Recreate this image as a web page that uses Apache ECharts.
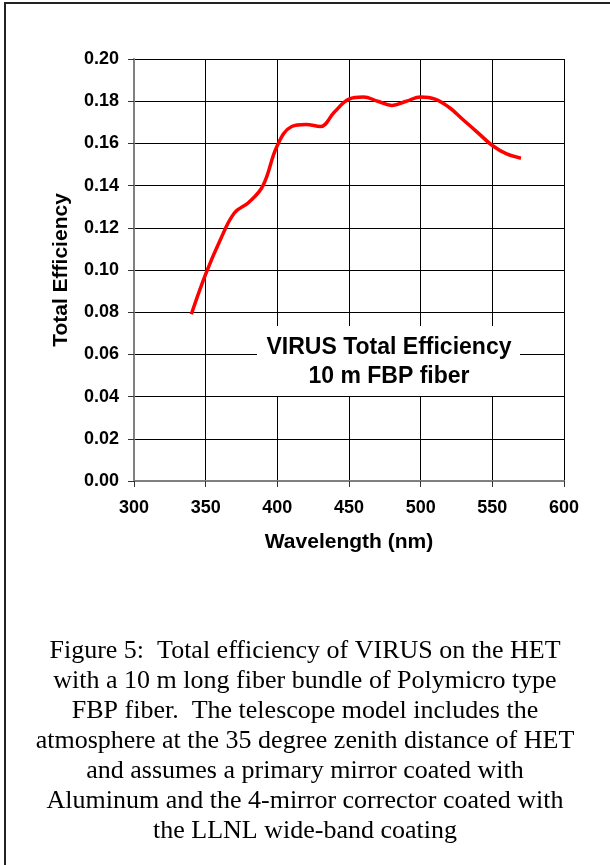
<!DOCTYPE html>
<html>
<head>
<meta charset="utf-8">
<script src="https://cdn.jsdelivr.net/npm/echarts@6/dist/echarts.min.js"></script>
<style>
html,body{margin:0;padding:0;background:#fff;}
#chart{width:610px;height:865px;}
</style>
</head>
<body>
<div id="chart"></div>
<script>
// Wavelength (nm)
const wavelengths = [340, 350, 360, 370, 380, 390, 400, 410, 420, 430, 440, 450, 460, 470, 480, 490, 500, 510, 520, 530, 540, 550, 560, 570];
// Total efficiency
const efficiency = [0.079, 0.098, 0.114, 0.127, 0.132, 0.140, 0.159, 0.168, 0.169, 0.168, 0.175, 0.181, 0.182, 0.180, 0.178, 0.180, 0.182, 0.181, 0.177, 0.171, 0.165, 0.159, 0.155, 0.153];
const xTicks = { min: 300, max: 600, interval: 50 };
const yTicks = { min: 0, max: 0.2, interval: 0.02 };
const annotationLines = ['VIRUS Total Efficiency', '10 m FBP fiber'];
const captionLines = [
  'Figure 5:  Total efficiency of VIRUS on the HET',
  'with a 10 m long fiber bundle of Polymicro type',
  'FBP fiber.  The telescope model includes the',
  'atmosphere at the 35 degree zenith distance of HET',
  'and assumes a primary mirror coated with',
  'Aluminum and the 4-mirror corrector coated with',
  'the LLNL wide-band coating'
];

const seriesData = wavelengths.map((w, i) => [w, efficiency[i]]);
const sans = 'Liberation Sans, Arial, sans-serif';
const chart = echarts.init(document.getElementById('chart'), null, { renderer: 'canvas' });
chart.setOption({
  backgroundColor: '#fff',
  animation: false,
  grid: { left: 134, top: 59, right: 46, bottom: 384, containLabel: false },
  xAxis: {
    type: 'value', min: xTicks.min, max: xTicks.max, interval: xTicks.interval,
    name: 'Wavelength (nm)', nameLocation: 'middle', nameGap: 51,
    nameTextStyle: { fontFamily: sans, fontWeight: 'bold', fontSize: 21, color: '#000' },
    axisLine: { show: true, lineStyle: { color: '#808080', width: 2 } },
    axisTick: { show: true, length: 6, lineStyle: { color: '#333', width: 1 } },
    axisLabel: { margin: 18, fontFamily: sans, fontWeight: 'bold', fontSize: 18, color: '#000' },
    splitLine: { show: true, lineStyle: { color: '#000', width: 1 } }
  },
  yAxis: {
    type: 'value', min: yTicks.min, max: yTicks.max, interval: yTicks.interval,
    name: 'Total Efficiency', nameLocation: 'middle', nameGap: 62,
    nameTextStyle: { fontFamily: sans, fontWeight: 'bold', fontSize: 21, color: '#000' },
    axisLine: { show: true, lineStyle: { color: '#808080', width: 2 } },
    axisTick: { show: true, length: 6, lineStyle: { color: '#333', width: 1 } },
    axisLabel: { margin: 15, fontFamily: sans, fontWeight: 'bold', fontSize: 18, color: '#000',
      formatter: v => v.toFixed(2) },
    splitLine: { show: true, lineStyle: { color: '#000', width: 1 } }
  },
  series: [{
    type: 'line', data: seriesData, smooth: 0.4, showSymbol: false,
    lineStyle: { color: '#ff0000', width: 3.5 }, z: 3
  }],
  graphic: [
    { type: 'rect', silent: true, z: 100, shape: { x: 5, y: 3, width: 640, height: 900 },
      style: { fill: 'none', stroke: '#222', lineWidth: 2 } },
    { type: 'rect', z: 50, shape: { x: 257, y: 326, width: 263, height: 70 },
      style: { fill: '#fff', stroke: 'none' } },
    { type: 'text', z: 51, x: 389, y: 362,
      style: { text: annotationLines.join('\n'), font: 'bold 23px ' + sans, fill: '#000',
        textAlign: 'center', textVerticalAlign: 'middle', lineHeight: 29 } },
    { type: 'text', z: 51, x: 305, y: 741,
      style: { text: captionLines.join('\n'), font: '26px Liberation Serif, Times New Roman, serif', fill: '#000',
        textAlign: 'center', textVerticalAlign: 'middle', lineHeight: 30 } }
  ]
});
</script>
</body>
</html>
